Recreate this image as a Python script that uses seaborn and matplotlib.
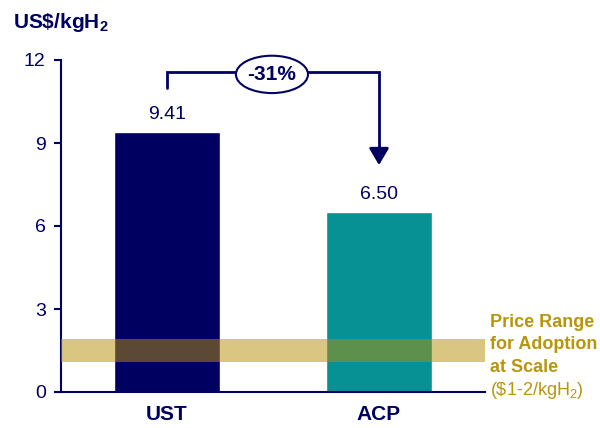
import matplotlib
matplotlib.use("Agg")
import matplotlib.pyplot as plt
import seaborn as sns
import pandas as pd
from matplotlib.patches import Ellipse

categories = ["UST", "ACP"]
values = [9.41, 6.50]
value_labels = ["9.41", "6.50"]
bar_colors = ["#000060", "#079195"]
yticks = [0, 3, 6, 9, 12]
band_low, band_high = 1.1, 1.9
change_label = "-31%"

sns.set_theme(style="white")
plt.rcParams['font.family'] = ['Liberation Sans', 'DejaVu Sans']
plt.rcParams['mathtext.fontset'] = 'custom'
plt.rcParams['mathtext.rm'] = 'Liberation Sans'
plt.rcParams['mathtext.bf'] = 'Liberation Sans:bold'
plt.rcParams['mathtext.it'] = 'Liberation Sans:italic'

navy = "#000060"
gold = "#B8960C"

fig = plt.figure(figsize=(6, 4.28), dpi=100)
ax = fig.add_axes([61/600, 36/428, 424/600, 332/428])

df = pd.DataFrame({"cat": categories, "val": values})
sns.barplot(data=df, x="cat", y="val", hue="cat", palette=bar_colors,
            width=0.5, saturation=1, legend=False, ax=ax, zorder=2)

ax.set_xlim(-0.5, 1.5)
ax.set_ylim(0, 12)
ax.set_yticks(yticks)
ax.set_yticklabels([str(t) for t in yticks], fontsize=14, color=navy)
ax.set_xticks(range(len(categories)))
ax.set_xticklabels(categories, fontsize=15, fontweight="bold", color=navy)
ax.tick_params(axis="y", direction="out", length=5, width=1.5, color=navy, left=True, pad=6)
ax.tick_params(axis="x", length=0, pad=9)
ax.set_xlabel("")
ax.set_ylabel("")
for s in ["top", "right"]:
    ax.spines[s].set_visible(False)
for s in ["left", "bottom"]:
    ax.spines[s].set_color(navy)
    ax.spines[s].set_linewidth(1.5)

# price band
ax.axhspan(band_low, band_high, color="#B39008", alpha=0.51, lw=0, zorder=3)

# value labels
for i, (v, lab) in enumerate(zip(values, value_labels)):
    ax.text(i, v + 0.33, lab, ha="center", va="bottom", fontsize=14, color=navy)

# arrow connector
y_top = 11.56
ax.plot([0, 0, 1, 1], [11.0, y_top, y_top, 8.75], color=navy, lw=2,
        clip_on=False, zorder=4, solid_joinstyle="miter")
ax.annotate("", xy=(1, 8.2), xytext=(1, 8.8),
            arrowprops=dict(arrowstyle="-|>,head_length=0.85,head_width=0.5",
                            color=navy, lw=2, shrinkA=0, shrinkB=0),
            annotation_clip=False)
ell = Ellipse((0.495, y_top - 0.08), width=0.34, height=1.35, facecolor="white",
              edgecolor=navy, lw=1.5, clip_on=False, zorder=5)
ax.add_patch(ell)
ax.text(0.495, y_top - 0.08, change_label, ha="center", va="center", fontsize=15,
        fontweight="bold", color=navy, zorder=6, clip_on=False)

# right annotation
ax.text(1.524, 2.53, "Price Range", ha="left", va="center", fontsize=13,
        fontweight="bold", color=gold, clip_on=False)
ax.text(1.524, 1.70, "for Adoption", ha="left", va="center", fontsize=13,
        fontweight="bold", color=gold, clip_on=False)
ax.text(1.524, 0.90, "at Scale", ha="left", va="center", fontsize=13,
        fontweight="bold", color=gold, clip_on=False)
ax.text(1.524, 0.07, "(\\$1-2/kgH$_2$)", ha="left", va="center", fontsize=13,
        color=gold, clip_on=False)

fig.text(13/600, 1 - 22/428, "US\\$/kgH$_\\mathbf{2}$", ha="left", va="center",
         fontsize=15, fontweight="bold", color=navy)

fig.savefig("out.png", dpi=100, facecolor="white")
